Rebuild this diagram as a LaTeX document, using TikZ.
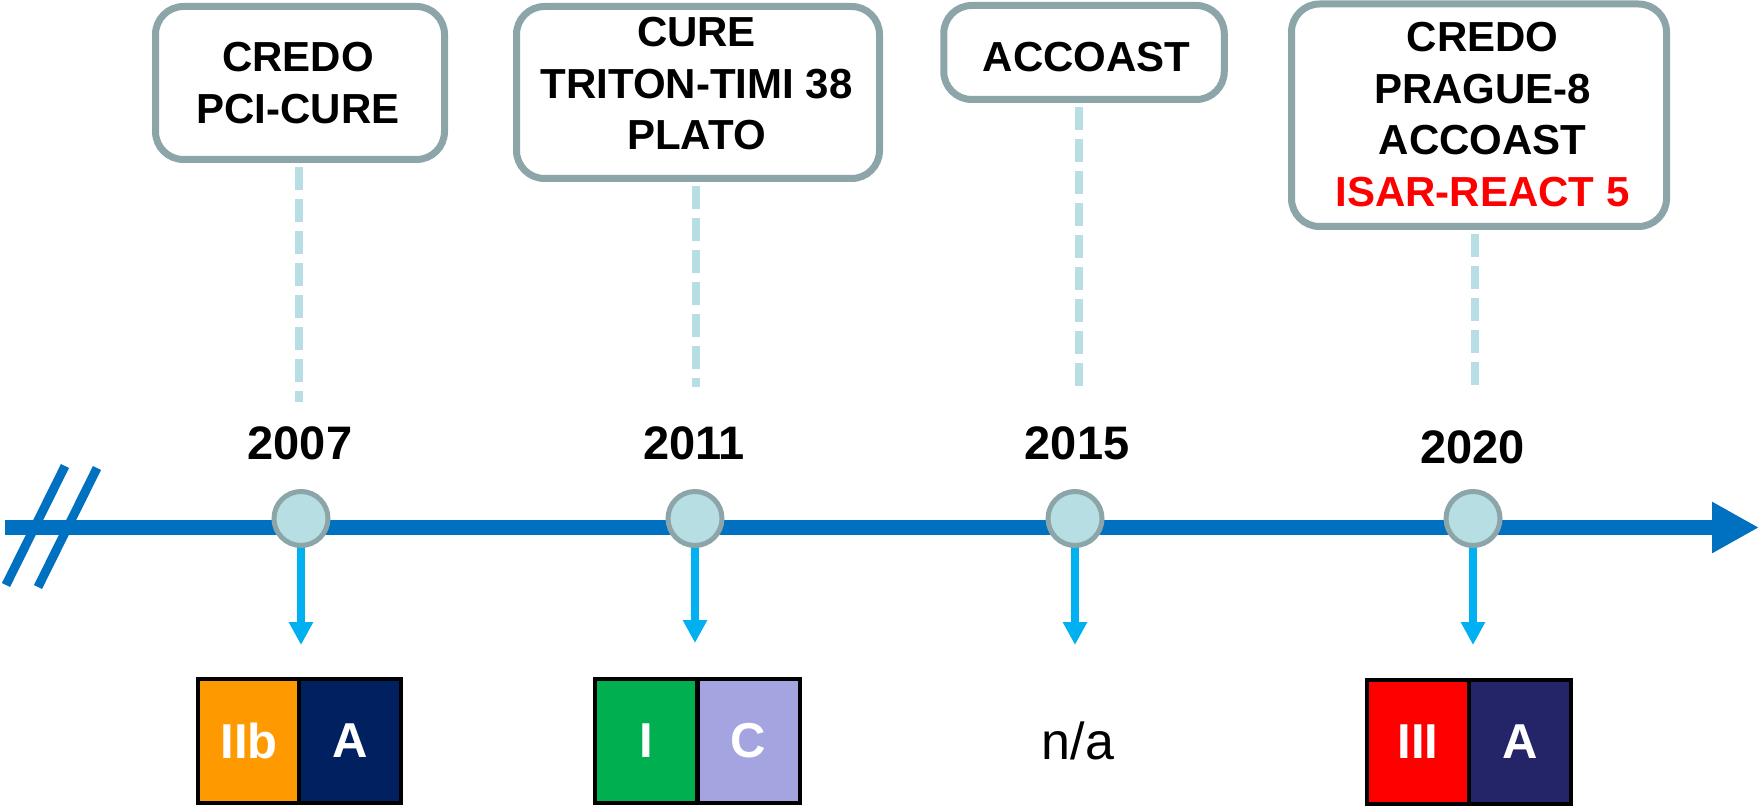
\documentclass[tikz,border=0pt]{standalone}
\usepackage{fontspec}
\setmainfont{Liberation Sans}
\usetikzlibrary{arrows.meta}
\definecolor{mainblue}{HTML}{0070C0}
\definecolor{arrowcyan}{HTML}{00B0F0}
\definecolor{calloutgray}{RGB}{140,165,168}
\definecolor{lightteal}{RGB}{183,222,226}
\definecolor{cellorange}{HTML}{FF9900}
\definecolor{cellnavy}{HTML}{002060}
\definecolor{cellgreen}{HTML}{00B050}
\definecolor{celllav}{RGB}{164,164,224}
\definecolor{cellred}{HTML}{FF0000}
\definecolor{cellindigo}{RGB}{36,36,104}
\begin{document}
\begin{tikzpicture}[x=0.5pt,y=-0.5pt,
  callout/.style={draw=calloutgray, line width=3.5pt, rounded corners=14pt, fill=white, inner sep=0pt},
  calltext/.style={font=\bfseries\fontsize{21}{25.75}\selectfont, align=center, inner sep=0pt, anchor=north},
  dashline/.style={draw=lightteal, line width=4pt, dash pattern=on 11.5pt off 4.5pt},
  yeartext/.style={font=\bfseries\fontsize{23.5}{28}\selectfont, inner sep=0pt, anchor=base},
  dot/.style={circle, draw=calloutgray, fill=lightteal, line width=2.5pt, minimum size=27pt, inner sep=0pt},
  downarrow/.style={draw=arrowcyan, line width=4pt, -{Triangle[length=11.5pt,width=11.5pt]}},
  cell/.style={draw=black, line width=2pt, minimum width=51pt, minimum height=62pt, inner sep=0pt, text=white, font=\bfseries\fontsize{24.5}{29}\selectfont},
  breakline/.style={draw=mainblue, line width=4.5pt},
  mainline/.style={draw=mainblue, line width=7.5pt, -{Triangle[length=23.5pt,width=24pt]}},
]
\useasboundingbox (0,0) rectangle (1760,807);

% main timeline
\coordinate (ls) at (5,527.5);
\coordinate (le) at (1759,527.5);
\draw[mainline] (ls) -- (le);

% break marks
\coordinate (b1a) at (65,466);
\coordinate (b1b) at (6,585);
\coordinate (b2a) at (97,468);
\coordinate (b2b) at (38,587);
\draw[breakline] (b1a) -- (b1b);
\draw[breakline] (b2a) -- (b2b);

% callout boxes
\node[callout, minimum width=144.5pt, minimum height=76.5pt] (box1) at (300,83) {};
\node[callout, minimum width=181.5pt, minimum height=86pt] (box2) at (698,92.5) {};
\node[callout, minimum width=140.25pt, minimum height=47pt] (box3) at (1084,52.5) {};
\node[callout, minimum width=187.5pt, minimum height=111.25pt] (box4) at (1479,115.25) {};

\node[calltext] (t1) at (298,42) {CREDO\\PCI-CURE};
\node[calltext] (t2) at (696.5,17) {CURE\\TRITON-TIMI 38\\PLATO};
\node[calltext] (t3) at (1086.5,42) {ACCOAST};
\node[calltext] (t4) at (1482.5,22) {CREDO\\PRAGUE-8\\ACCOAST\\\textcolor{cellred}{ISAR-REACT 5}};

% dashed leaders
\coordinate (d1) at (299,402);
\coordinate (d2) at (696,387);
\coordinate (d3) at (1079,389);
\coordinate (d4) at (1475,387);
\draw[dashline, shorten <=2pt] (box1.south -| d1) -- (d1);
\draw[dashline, shorten <=2pt] (box2.south -| d2) -- (d2);
\draw[dashline, shorten <=2pt] (box3.south -| d3) -- (d3);
\draw[dashline, shorten <=2pt] (box4.south -| d4) -- (d4);

% years
\node[yeartext] (y1) at (300,459) {2007};
\node[yeartext] (y2) at (694,459) {2011};
\node[yeartext] (y3) at (1077,459) {2015};
\node[yeartext] (y4) at (1472.5,463) {2020};

% circle positions and down arrows
\coordinate (p1) at (301,518.5);
\coordinate (p2) at (695,518.5);
\coordinate (p3) at (1075,518.5);
\coordinate (p4) at (1473,518.5);
\coordinate (a1) at (301,645);
\coordinate (a2) at (695,643);
\coordinate (a3) at (1075,645);
\coordinate (a4) at (1473,645);
\draw[downarrow] (p1) -- (a1);
\draw[downarrow] (p2) -- (a2);
\draw[downarrow] (p3) -- (a3);
\draw[downarrow] (p4) -- (a4);
\node[dot] (c1) at (p1) {};
\node[dot] (c2) at (p2) {};
\node[dot] (c3) at (p3) {};
\node[dot] (c4) at (p4) {};

% classification cells
\node[cell, fill=cellorange] (k1a) at (249,741) {IIb};
\node[cell, fill=cellnavy] (k1b) at (350,741) {A};
\node[cell, fill=cellgreen] (k2a) at (646,741) {I};
\node[cell, fill=celllav] (k2b) at (748.5,741) {C};
\node[font=\fontsize{26}{31}\selectfont, inner sep=0pt, anchor=base] (na) at (1078,759) {n/a};
\node[cell, fill=cellred] (k4a) at (1418,741.5) {III};
\node[cell, fill=cellindigo] (k4b) at (1520,741.5) {A};
\end{tikzpicture}
\end{document}
